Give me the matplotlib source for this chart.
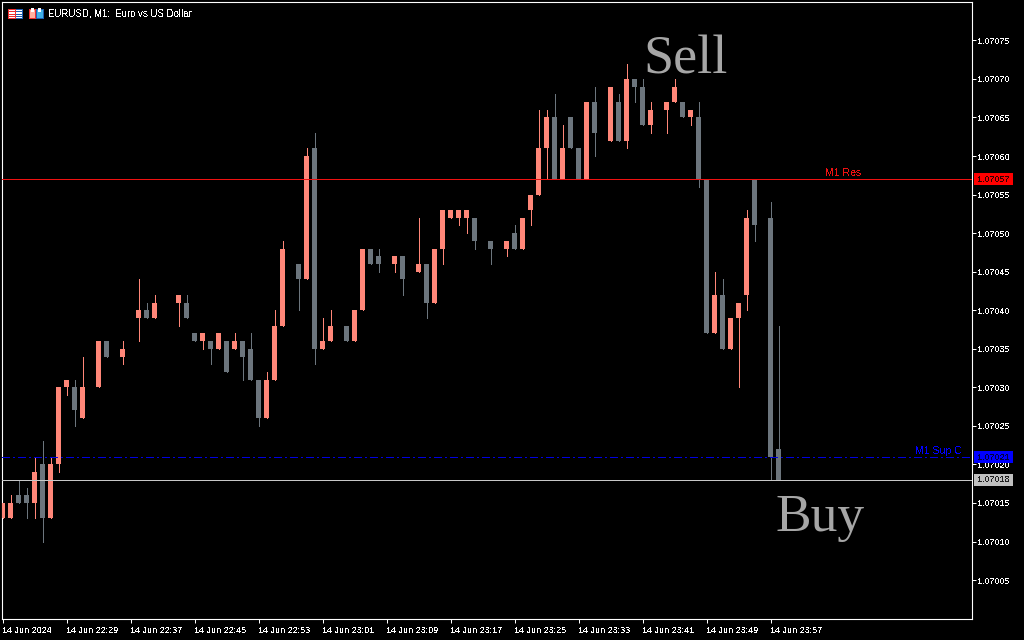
import numpy as np
import matplotlib
matplotlib.use("Agg")
import matplotlib.pyplot as plt
from matplotlib.patches import Rectangle

plt.rcParams['font.family'] = ['Liberation Sans', 'DejaVu Sans']
plt.rcParams['text.antialiased'] = False

BASE = 1.07
POINT = 0.00001
n = np.nan
opens = [13,13,16,16,15,20,13,20,30,30,26,n,30,36,n,34,n,39,40,39,n,n,41,41,37,36,36,35,36,35,36,35,31,26,31,38,n,46,44,61,
         35,36,n,38,36,40,48,47,n,46,47,n,45,46,41,48,52,52,52,52,n,49,n,48,50,48,53,55,61,65,57,65,61,57,67,n,62,67,62,70,
         69,64,n,66,67,67,65,65,57,37,42,35,39,42,57,n,52,22]
closes = [15,15,15,15,19,13,20,30,31,27,30,n,36,34,n,35,n,40,39,41,n,n,42,39,36,37,35,37,32,36,34,31,26,31,38,48,n,44,60,35,
          36,38,n,36,40,48,46,46,n,47,44,n,46,41,48,53,53,53,53,49,n,48,n,49,48,52,55,61,65,57,61,61,57,67,63,n,69,62,70,69,
          64,66,n,67,69,65,66,57,37,42,35,39,41,52,51,n,21,18]
highs = [15,16,18,17,21,23,21,30,31,31,34,n,36,36,n,36,n,44,41,42,n,n,42,42,37,37,36,37,36,37,36,37,31,32,40,49,n,46,61,63,
         39,40,n,38,40,48,48,48,n,47,47,n,52,46,48,53,53,53,53,52,n,49,n,49,51,52,55,66,66,68,64,65,61,67,69,n,69,68,72,70,
         70,67,n,67,70,67,66,67,57,45,44,39,41,53,57,n,54,38]
lows = [13,13,15,13,13,10,13,19,29,25,26,n,30,34,n,33,n,36,39,39,n,n,38,39,36,35,33,35,32,35,31,31,25,26,31,38,n,40,44,33,
        35,36,n,36,36,40,46,45,n,45,42,n,45,39,41,46,52,51,50,48,n,46,n,47,48,48,51,55,57,57,57,61,57,57,60,n,62,62,61,67,
        64,63,n,63,67,65,64,56,37,37,35,35,30,40,49,n,18,18]
price_ticks = [1.07005,1.07010,1.07015,1.07020,1.07025,1.07030,1.07035,1.07040,1.07045,1.07050,1.07055,1.07060,1.07065,1.07070,1.07075]
time_tick_bars = list(range(0, 97, 8))
time_tick_labels = ['14 Jun 2024','14 Jun 22:29','14 Jun 22:37','14 Jun 22:45','14 Jun 22:53','14 Jun 23:01','14 Jun 23:09',
                    '14 Jun 23:17','14 Jun 23:25','14 Jun 23:33','14 Jun 23:41','14 Jun 23:49','14 Jun 23:57']
resistance = 1.07057
support = 1.07021
bid = 1.07018

UP = '#ff8678'
DOWN = '#6c757d'
W, H = 1024, 640

o = BASE + np.array(opens, float) * POINT
c = BASE + np.array(closes, float) * POINT
hi = BASE + np.array(highs, float) * POINT
lo = BASE + np.array(lows, float) * POINT
idx = np.arange(len(o))

fig = plt.figure(figsize=(W/100, H/100), dpi=100, facecolor='black')
L, R, T, B = 2, 971.5, 2, 619
ax = fig.add_axes([L/W, 1-B/H, (R-L)/W, (B-T)/H], facecolor='black')
PX_PER_BAR = 8.0
PX_PER_POINT = 7.71
Y_REF = 194.6
ax.set_xlim((L-2.5)/PX_PER_BAR, (R-2.5)/PX_PER_BAR)
ax.set_ylim(1.07055 - (B-Y_REF)/PX_PER_POINT*POINT, 1.07055 + (Y_REF-T)/PX_PER_POINT*POINT)

up = c >= o
colors = np.where(up, UP, DOWN)
valid = ~np.isnan(o)
ax.vlines(idx[valid], lo[valid], hi[valid], colors=colors[valid], linewidth=0.72, zorder=2, antialiased=False)
ax.bar(idx[valid], np.abs(c-o)[valid], bottom=np.minimum(o, c)[valid], width=5/PX_PER_BAR,
       color=colors[valid], linewidth=0, zorder=3, antialiased=False)

ax.axhline(resistance, color='#ee1111', lw=0.72, zorder=4, antialiased=False)
ax.axhline(support, color='#0000e0', lw=0.72, ls=(0, (8, 3, 2, 3)), zorder=4, antialiased=False)
ax.axhline(bid, color='#c8c8c8', lw=0.72, zorder=4, antialiased=False)

for s in ax.spines.values():
    s.set_color('white')
    s.set_linewidth(0.8)
ax.yaxis.tick_right()
ax.set_yticks(price_ticks)
ax.set_yticklabels([f'{p:.5f}' for p in price_ticks])
ax.set_xticks(time_tick_bars)
ax.set_xticklabels(time_tick_labels, ha='left')
ax.tick_params(axis='both', colors='white', length=3.2, width=0.72, labelsize=6.5, pad=1)
ax.tick_params(axis='x', pad=2)

ov = fig.add_axes([0, 0, 1, 1], facecolor='none')
ov.set_xlim(0, W)
ov.set_ylim(H, 0)
ov.axis('off')

ov.text(685.5, 73, 'Sell', family='Liberation Serif', fontsize=39, color='#a6a6a6', ha='center', va='baseline', antialiased=True)
ov.text(820, 531, 'Buy', family='Liberation Serif', fontsize=38.5, color='#a6a6a6', ha='center', va='baseline', antialiased=True)
ov.text(48, 13.5, 'EURUSD, M1:  Euro vs US Dollar', color='white', fontsize=6.9, ha='left', va='center')
ov.text(825, 173.5, 'M1 Res', color='#ee1111', fontsize=7.6, ha='left', va='center')
ov.text(915, 451.5, 'M1 Sup C', color='#0000ff', fontsize=7.6, ha='left', va='center')

for top, bg, fg, label in [(173, '#ff0000', '#300000', '1.07057'), (451, '#0000ff', '#000040', '1.07021'), (474, '#c0c0c0', '#202020', '1.07018')]:
    ov.add_patch(Rectangle((974, top), 39, 12, facecolor=bg, edgecolor='none', antialiased=False))
    ov.text(977, top+6, label, color=fg, fontsize=6.5, ha='left', va='center')

# title-bar icons
ov.add_patch(Rectangle((7.5, 8.5), 14, 9, facecolor='white', edgecolor='#1f5fb0', lw=0.72, antialiased=False))
ov.add_patch(Rectangle((7.5, 8.5), 7, 9, facecolor='white', edgecolor='#f03030', lw=0.72, antialiased=False))
for yy in (10.5, 13.5, 15.5):
    ov.plot([9, 14], [yy, yy], color='#f03030', lw=0.72, antialiased=False)
    ov.plot([16, 21], [yy, yy], color='#1f5fb0', lw=0.72, antialiased=False)
ov.add_patch(Rectangle((28.5, 8.5), 6.5, 9, facecolor='#ffb0a0', edgecolor='#f03030', lw=0.72, antialiased=False))
ov.add_patch(Rectangle((30.5, 8), 3, 4, facecolor='white', edgecolor='none', antialiased=False))
ov.add_patch(Rectangle((36, 8.5), 6.5, 9, facecolor='#40b0e8', edgecolor='#1f5fb0', lw=0.72, antialiased=False))
ov.add_patch(Rectangle((38, 8), 3, 4, facecolor='white', edgecolor='none', antialiased=False))

fig.savefig('out.png', dpi=100, facecolor='black')
